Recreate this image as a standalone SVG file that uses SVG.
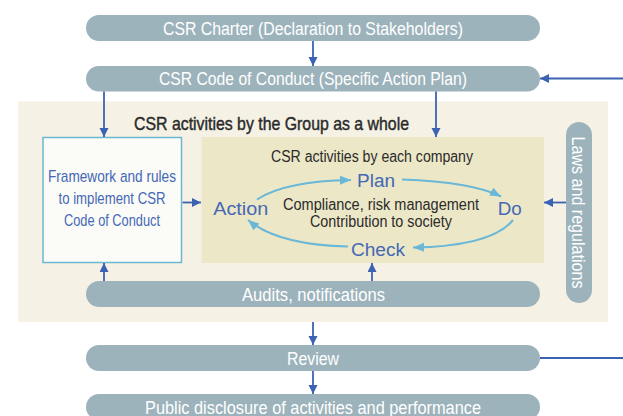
<svg xmlns="http://www.w3.org/2000/svg" width="623" height="416" viewBox="0 0 623 416">
<style>
text{font-family:"Liberation Sans Narrow","Liberation Sans",Arial,sans-serif}
.pill{fill:#9db3bc}
.pt{fill:#ffffff;font-size:18px;text-anchor:middle}
.bt{fill:#4568b5;text-anchor:middle}
.dt{fill:#2b2b2b;text-anchor:middle}
.conn{stroke:#3c63b2;stroke-width:1.8;fill:none}
.cyc{stroke:#6ab7d7;stroke-width:2;fill:none}
</style>
<defs>
<marker id="ah" markerUnits="userSpaceOnUse" markerWidth="10" markerHeight="10" refX="9" refY="4.5" orient="auto">
<path d="M0,0 L9,4.5 L0,9 z" fill="#3c63b2"/>
</marker>
<marker id="ch" markerUnits="userSpaceOnUse" markerWidth="12" markerHeight="10" refX="11" refY="4.5" orient="auto">
<path d="M0,0 L11,4.5 L0,9 z" fill="#6ab7d7"/>
</marker>
</defs>
<rect width="623" height="416" fill="#ffffff"/>
<g id="group-area">
<rect x="18" y="101.5" width="590" height="220.5" fill="#f5f2e5"/>
<text class="dt" x="271.5" y="129.5" font-size="19" stroke="#2b2b2b" stroke-width="0.45" textLength="275" lengthAdjust="spacingAndGlyphs">CSR activities by the Group as a whole</text>
</g>
<g id="charter">
<rect class="pill" x="86" y="15" width="454" height="26" rx="13"/>
<text class="pt" x="313" y="35" textLength="300" lengthAdjust="spacingAndGlyphs">CSR Charter (Declaration to Stakeholders)</text>
</g>
<g id="code">
<rect class="pill" x="86" y="66" width="454" height="25.5" rx="12.75"/>
<text class="pt" x="313" y="85" textLength="308" lengthAdjust="spacingAndGlyphs">CSR Code of Conduct (Specific Action Plan)</text>
</g>
<g id="framework">
<rect x="43" y="137.5" width="138.5" height="125" fill="#fbfbf8" stroke="#6cb8d4" stroke-width="1.5"/>
<text class="bt" x="112" y="182" font-size="17" textLength="128" lengthAdjust="spacingAndGlyphs">Framework and rules</text>
<text class="bt" x="112" y="204" font-size="17" textLength="107" lengthAdjust="spacingAndGlyphs">to implement CSR</text>
<text class="bt" x="112" y="226" font-size="17" textLength="96" lengthAdjust="spacingAndGlyphs">Code of Conduct</text>
</g>
<g id="company">
<rect x="201.5" y="137" width="342.5" height="126" fill="#ebe7c7"/>
<text class="dt" x="372" y="161.5" font-size="16" textLength="202" lengthAdjust="spacingAndGlyphs">CSR activities by each company</text>
<text class="dt" x="381" y="210" font-size="16" textLength="196" lengthAdjust="spacingAndGlyphs">Compliance, risk management</text>
<text class="dt" x="381" y="226.5" font-size="16" textLength="142" lengthAdjust="spacingAndGlyphs">Contribution to society</text>
</g>
<g id="plan"><text class="bt" x="376" y="187" font-size="18" textLength="38" lengthAdjust="spacingAndGlyphs">Plan</text></g>
<g id="do"><text class="bt" x="509.7" y="215" font-size="18" textLength="24" lengthAdjust="spacingAndGlyphs">Do</text></g>
<g id="check"><text class="bt" x="378" y="256" font-size="18" textLength="54" lengthAdjust="spacingAndGlyphs">Check</text></g>
<g id="action"><text class="bt" x="240.7" y="215" font-size="18" textLength="55" lengthAdjust="spacingAndGlyphs">Action</text></g>
<g id="laws">
<rect class="pill" x="566" y="122" width="26" height="181" rx="13"/>
<text class="pt" transform="translate(578.5,212.5) rotate(90)" x="0" y="6.2" font-size="17" textLength="152" lengthAdjust="spacingAndGlyphs">Laws and regulations</text>
</g>
<g id="audits">
<rect class="pill" x="86" y="281" width="454" height="26" rx="13"/>
<text class="pt" x="313.5" y="301" textLength="143" lengthAdjust="spacingAndGlyphs">Audits, notifications</text>
</g>
<g id="review">
<rect class="pill" x="86" y="345" width="454" height="26" rx="13"/>
<text class="pt" x="313" y="364.5" textLength="52" lengthAdjust="spacingAndGlyphs">Review</text>
</g>
<g id="public">
<rect class="pill" x="86" y="394" width="454" height="26" rx="13"/>
<text class="pt" x="313" y="413.5" textLength="336" lengthAdjust="spacingAndGlyphs">Public disclosure of activities and performance</text>
</g>
<g id="connectors">
<path class="conn" d="M313,41 V66" marker-end="url(#ah)"/>
<path class="conn" d="M623,78.5 H540" marker-end="url(#ah)"/>
<path class="conn" d="M104,91.5 V137" marker-end="url(#ah)"/>
<path class="conn" d="M436,91.5 V137" marker-end="url(#ah)"/>
<path class="conn" d="M182.5,202.5 H201" marker-end="url(#ah)"/>
<path class="conn" d="M566,202.5 H544" marker-end="url(#ah)"/>
<path class="conn" d="M104,281 V263" marker-end="url(#ah)"/>
<path class="conn" d="M372,281 V263" marker-end="url(#ah)"/>
<path class="conn" d="M313,322 V345" marker-end="url(#ah)"/>
<path class="conn" d="M540,358 H623"/>
<path class="conn" d="M313,371 V394" marker-end="url(#ah)"/>
<path class="cyc" d="M257,199.5 Q285,181 351,180" marker-end="url(#ch)"/>
<path class="cyc" d="M402,179.5 Q472,182 501,196.5" marker-end="url(#ch)"/>
<path class="cyc" d="M513,220 Q492,246 413,247.5" marker-end="url(#ch)"/>
<path class="cyc" d="M348,246.5 Q278,245 248,220" marker-end="url(#ch)"/>
</g>
</svg>
